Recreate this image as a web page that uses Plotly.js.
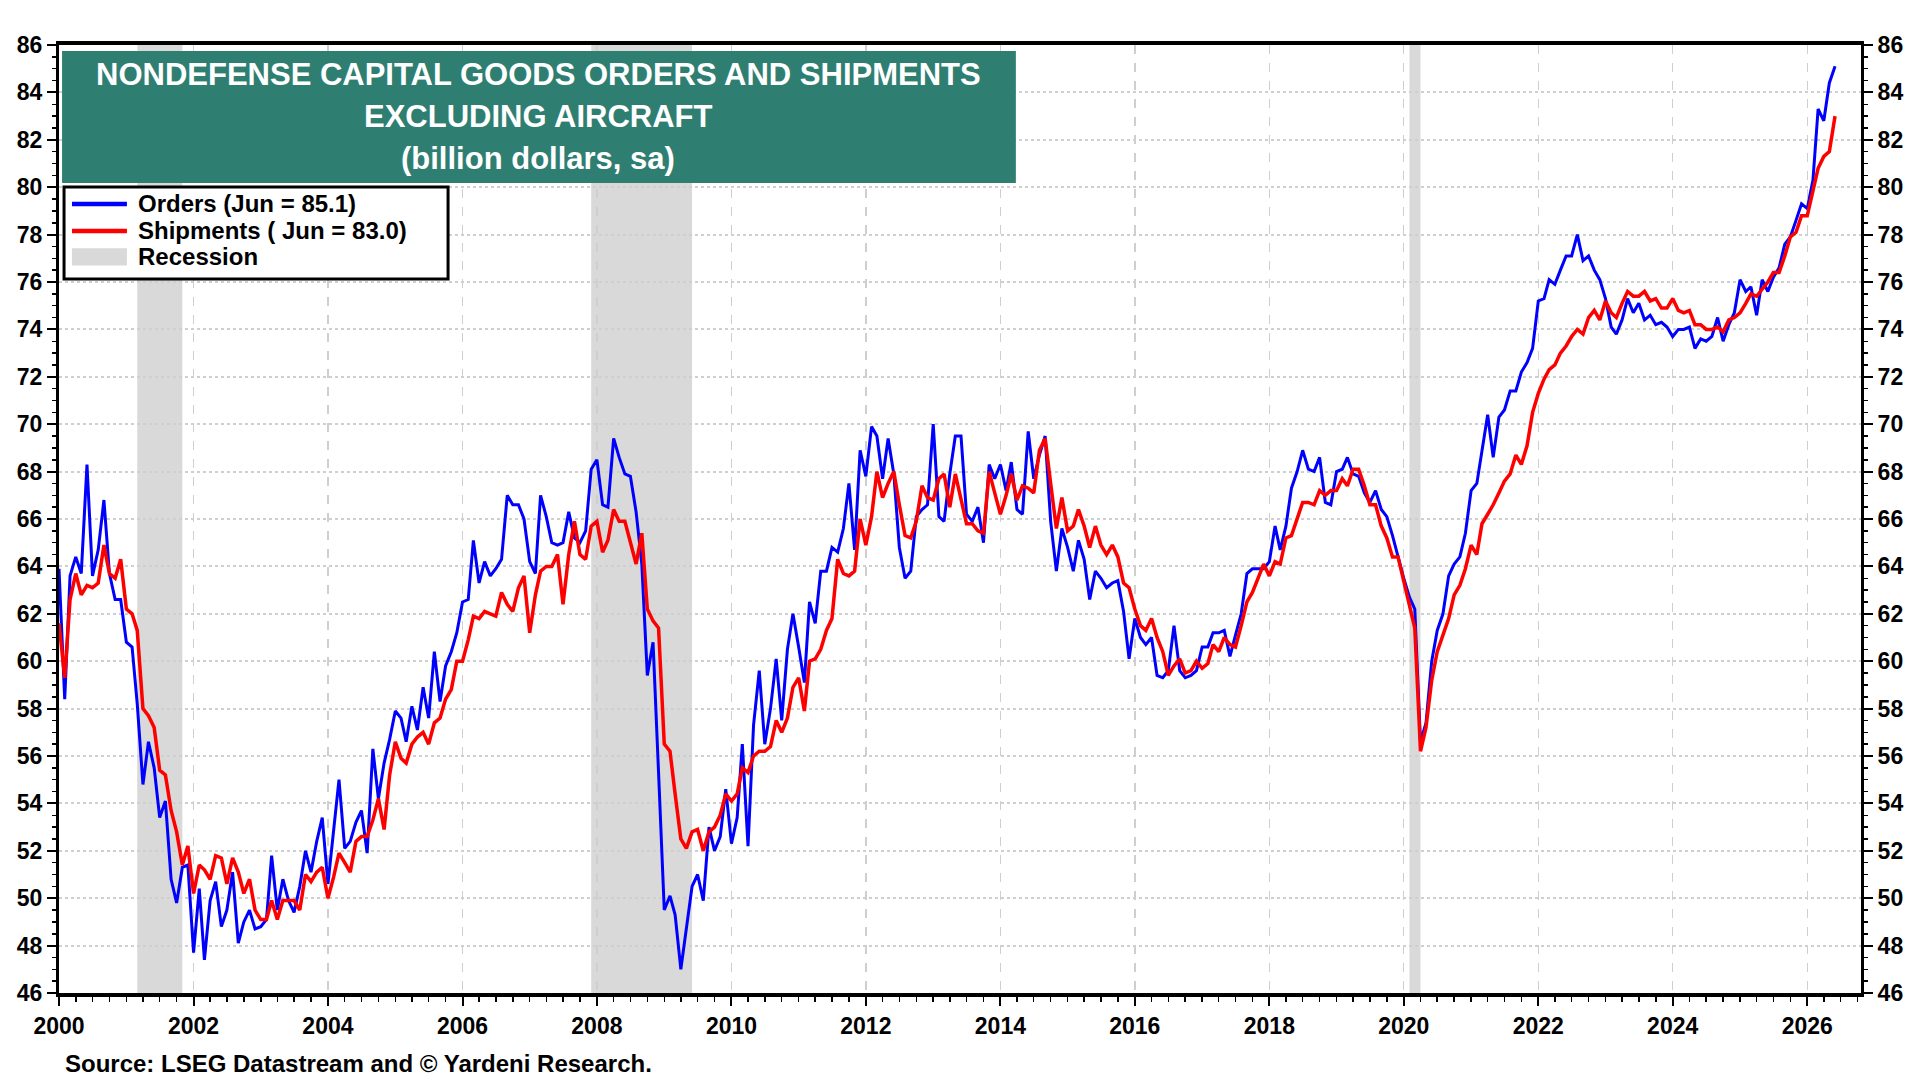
<!DOCTYPE html>
<html>
<head>
<meta charset="utf-8">
<script src="https://cdn.plot.ly/plotly-3.0.1.min.js"></script>
<style>
    body { margin: 0; background: #fff; }
    #graphgoeshere { width: 1920px; height: 1081px; }
</style>
</head>
<body>
<div id="graphgoeshere"></div>
<script>
// monthly data, first value is Jan 2000, last is Jun 2026
var startYear = 2000;

var orders = [
    63.9, 58.4, 63.6, 64.4, 63.7, 68.3, 63.6, 64.7, 66.8, 63.7, 62.6, 62.6,
    60.8, 60.6, 58.2, 54.8, 56.6, 55.5, 53.4, 54.1, 50.8, 49.8, 51.3, 51.4,
    47.7, 50.4, 47.4, 49.9, 50.7, 48.8, 49.5, 51.1, 48.1, 49.0, 49.5, 48.7,
    48.8, 49.1, 51.8, 49.5, 50.8, 49.9, 49.4, 50.5, 52.0, 51.1, 52.4, 53.4,
    50.6, 53.0, 55.0, 52.1, 52.4, 53.2, 53.7, 51.9, 56.3, 54.2, 55.7, 56.7,
    57.9, 57.6, 56.6, 58.1, 57.1, 58.9, 57.6, 60.4, 58.3, 59.8, 60.4, 61.2,
    62.5, 62.6, 65.1, 63.3, 64.2, 63.6, 63.9, 64.3, 67.0, 66.6, 66.6, 66.0,
    64.2, 63.7, 67.0, 66.1, 65.0, 64.9, 65.0, 66.3, 65.2, 65.0, 65.5, 68.1,
    68.5, 66.6, 66.5, 69.4, 68.6, 67.9, 67.8, 66.3, 64.1, 59.4, 60.8, 55.3,
    49.5, 50.1, 49.3, 47.0, 48.7, 50.5, 51.0, 49.9, 53.0, 52.0, 52.6, 54.6,
    52.3, 53.4, 56.5, 52.2, 57.3, 59.6, 56.5, 58.0, 60.1, 57.5, 60.5, 62.0,
    60.6, 59.1, 62.5, 61.6, 63.8, 63.8, 64.8, 64.6, 65.6, 67.5, 64.7, 68.9,
    67.8, 69.9, 69.5, 67.7, 69.4, 67.9, 64.8, 63.5, 63.8, 66.1, 66.4, 66.6,
    70.0, 66.1, 65.9, 67.9, 69.5, 69.5, 66.2, 65.9, 66.5, 65.0, 68.3, 67.7,
    68.3, 67.2, 68.4, 66.4, 66.2, 69.7, 67.7, 68.7, 69.5, 65.9, 63.8, 65.6,
    64.8, 63.8, 65.1, 64.3, 62.6, 63.8, 63.5, 63.1, 63.3, 63.4, 62.1, 60.1,
    61.8, 61.0, 60.7, 61.0, 59.4, 59.3, 59.6, 61.5, 59.6, 59.3, 59.4, 59.6,
    60.6, 60.6, 61.2, 61.2, 61.3, 60.2, 61.1, 62.0, 63.7, 63.9, 63.9, 63.9,
    64.2, 65.7, 64.7, 65.7, 67.3, 68.0, 68.9, 68.1, 68.0, 68.6, 66.7, 66.6,
    68.0, 68.1, 68.6, 67.9, 67.8, 67.1, 66.7, 67.2, 66.4, 66.1, 65.3, 64.4,
    63.5, 62.7, 62.2, 56.6, 57.4, 60.0, 61.3, 62.0, 63.6, 64.1, 64.4, 65.4,
    67.2, 67.5, 68.9, 70.4, 68.6, 70.3, 70.6, 71.4, 71.4, 72.2, 72.6, 73.2,
    75.2, 75.3, 76.1, 75.9, 76.5, 77.1, 77.1, 78.0, 76.9, 77.1, 76.5, 76.1,
    75.3, 74.1, 73.8, 74.4, 75.3, 74.7, 75.1, 74.4, 74.6, 74.2, 74.3, 74.1,
    73.7, 74.0, 74.0, 74.1, 73.2, 73.6, 73.5, 73.7, 74.5, 73.5, 74.2, 74.7,
    76.1, 75.6, 75.8, 74.6, 76.1, 75.6, 76.2, 76.6, 77.6, 77.9, 78.6, 79.3,
    79.1, 80.3, 83.3, 82.8, 84.4, 85.1
];

var shipments = [
    61.6, 59.3, 62.6, 63.7, 62.8, 63.2, 63.1, 63.3, 64.9, 63.7, 63.5, 64.3,
    62.2, 62.0, 61.3, 58.0, 57.7, 57.2, 55.4, 55.2, 53.7, 52.8, 51.4, 52.2,
    50.2, 51.4, 51.2, 50.8, 51.8, 51.7, 50.6, 51.7, 51.1, 50.2, 50.8, 49.5,
    49.1, 49.1, 49.9, 49.1, 49.9, 49.9, 49.9, 49.5, 51.0, 50.7, 51.1, 51.3,
    50.0, 50.9, 51.9, 51.5, 51.1, 52.4, 52.6, 52.6, 53.3, 54.2, 52.9, 55.2,
    56.6, 55.9, 55.7, 56.5, 56.8, 57.0, 56.5, 57.4, 57.6, 58.4, 58.8, 60.0,
    60.0, 60.9, 61.9, 61.8, 62.1, 62.0, 61.9, 62.9, 62.4, 62.1, 63.1, 63.6,
    61.2, 62.8, 63.8, 64.0, 64.0, 64.5, 62.4, 64.5, 65.9, 64.5, 64.3, 65.7,
    65.9, 64.6, 65.1, 66.4, 65.9, 65.9, 65.0, 64.1, 65.4, 62.2, 61.7, 61.4,
    56.5, 56.2, 54.4, 52.5, 52.1, 52.8, 52.9, 52.0, 52.8, 53.0, 53.5, 54.4,
    54.1, 54.4, 55.5, 55.3, 56.0, 56.2, 56.2, 56.4, 57.5, 57.0, 57.6, 58.9,
    59.3, 57.9, 60.0, 60.1, 60.5, 61.3, 61.8, 64.3, 63.7, 63.6, 63.8, 66.0,
    64.9, 66.1, 68.0, 66.9, 67.5, 68.0, 66.6, 65.3, 65.2, 65.9, 67.4, 66.9,
    66.8, 67.7, 67.9, 66.5, 67.9, 66.8, 65.8, 65.8, 65.5, 65.4, 68.0, 67.1,
    66.2, 67.0, 67.9, 66.8, 67.4, 67.3, 67.1, 68.9, 69.4, 67.5, 65.6, 66.9,
    65.5, 65.7, 66.4, 65.7, 64.8, 65.7, 64.9, 64.5, 64.9, 64.4, 63.3, 63.1,
    62.2, 61.5, 61.3, 61.8, 61.0, 60.4, 59.4, 59.8, 60.1, 59.5, 59.6, 60.0,
    59.7, 59.9, 60.7, 60.4, 61.0, 60.7, 60.6, 61.5, 62.5, 62.9, 63.5, 64.1,
    63.6, 64.2, 64.1, 65.2, 65.3, 66.0, 66.7, 66.7, 66.6, 67.2, 67.0, 67.2,
    67.2, 67.7, 67.4, 68.1, 68.1, 67.4, 66.6, 66.6, 65.7, 65.2, 64.4, 64.4,
    63.4, 62.4, 61.4, 56.2, 57.2, 59.2, 60.4, 61.1, 61.8, 62.8, 63.2, 63.9,
    64.9, 64.5, 65.8, 66.2, 66.6, 67.1, 67.6, 67.9, 68.7, 68.3, 69.1, 70.5,
    71.3, 71.9, 72.3, 72.5, 73.0, 73.3, 73.7, 74.0, 73.8, 74.5, 74.8, 74.4,
    75.2, 74.7, 74.5, 75.1, 75.6, 75.4, 75.4, 75.6, 75.2, 75.3, 74.9, 74.9,
    75.3, 74.8, 74.7, 74.8, 74.2, 74.2, 74.0, 74.0, 74.1, 73.9, 74.4, 74.5,
    74.7, 75.1, 75.5, 75.4, 75.7, 76.0, 76.4, 76.4, 77.1, 77.9, 78.1, 78.8,
    78.8, 79.9, 80.8, 81.3, 81.5, 83.0
];

var recessionStart = ['2001-03-01', '2007-12-01', '2020-02-01'];
var recessionEnd = ['2001-11-01', '2009-06-01', '2020-04-01'];

var seriesNames = ['Orders (Jun = 85.1)', 'Shipments ( Jun = 83.0)', 'Recession'];
var seriesColors = ['#0000ff', '#ff0000', '#d9d9d9'];
var titleLines = ['NONDEFENSE CAPITAL GOODS ORDERS AND SHIPMENTS', 'EXCLUDING AIRCRAFT', '(billion dollars, sa)'];
var sourceText = 'Source: LSEG Datastream and \u00a9 Yardeni Research.';

var FONT = '"Liberation Sans", Arial, sans-serif';

function monthDates(n) {
    var out = [];
    for (var i = 0; i < n; i++) {
        var y = startYear + Math.floor(i / 12);
        var m = (i % 12) + 1;
        out.push(y + '-' + (m < 10 ? '0' + m : m) + '-01');
    }
    return out;
}

function paperRect(x0, x1, y0, y1, fill, line) {
    return {
        type: 'rect', xref: 'paper', yref: 'paper',
        x0: x0, x1: x1, y0: y0, y1: y1,
        fillcolor: fill, line: line || { width: 0 }, layer: 'above'
    };
}

function makeGraph() {
    var dates = monthDates(orders.length);

    var trace1 = {
        x: dates, y: orders, name: seriesNames[0],
        mode: 'lines', type: 'scatter',
        line: { color: seriesColors[0], width: 3 }
    };
    var trace2 = {
        x: dates, y: shipments, name: seriesNames[1],
        mode: 'lines', type: 'scatter',
        line: { color: seriesColors[1], width: 3.5 }
    };
    // keeps the right axis alive
    var trace3 = {
        x: [dates[0]], y: [null], yaxis: 'y2',
        showlegend: false, hoverinfo: 'skip', mode: 'lines'
    };

    var shapes = [];
    for (var i = 0; i < recessionStart.length; i++) {
        shapes.push({
            type: 'rect', xref: 'x', yref: 'paper',
            x0: recessionStart[i], x1: recessionEnd[i], y0: 0, y1: 1,
            fillcolor: seriesColors[2], line: { width: 0 }, layer: 'between'
        });
    }
    // title box
    shapes.push(paperRect(0.0017, 0.531, 0.8544, 0.9937, '#2e7e72'));

    // legend drawn by hand so it matches the boxed style
    var legRows = [0.8323, 0.8038, 0.7770];
    shapes.push(paperRect(0.0028, 0.2159, 0.7532, 0.8502, '#fff', { color: '#000', width: 3 }));
    for (var j = 0; j < 2; j++) {
        shapes.push({
            type: 'line', xref: 'paper', yref: 'paper',
            x0: 0.0072, x1: 0.0377, y0: legRows[j], y1: legRows[j],
            line: { color: seriesColors[j], width: 4.5 }, layer: 'above'
        });
    }
    shapes.push(paperRect(0.0072, 0.0377, legRows[2] - 0.0095, legRows[2] + 0.0085, seriesColors[2]));

    var annotations = [];
    var titleY = [0.9689, 0.9251, 0.8805];
    for (var k = 0; k < titleLines.length; k++) {
        annotations.push({
            xref: 'paper', yref: 'paper', x: 0.266, y: titleY[k],
            xanchor: 'center', yanchor: 'middle', showarrow: false,
            text: titleLines[k],
            font: { family: FONT, size: 31, color: '#fff', weight: 'bold' }
        });
    }
    for (var r = 0; r < seriesNames.length; r++) {
        annotations.push({
            xref: 'paper', yref: 'paper', x: 0.0425, y: legRows[r],
            xanchor: 'left', yanchor: 'middle', showarrow: false,
            text: seriesNames[r],
            font: { family: FONT, size: 24, color: '#000', weight: 'bold' }
        });
    }
    annotations.push({
        xref: 'paper', yref: 'paper', x: 0.002, y: -0.0745,
        xanchor: 'left', yanchor: 'middle', showarrow: false,
        text: sourceText,
        font: { family: FONT, size: 24, color: '#000', weight: 'bold' }
    });

    var tickFont = { family: FONT, size: 23, color: '#000', weight: 'bold' };

    var yax = {
        range: [46, 86], dtick: 2, tick0: 46,
        showgrid: true, gridcolor: '#cfcfcf', griddash: 'dot', gridwidth: 2,
        zeroline: false,
        showline: true, linecolor: '#000', linewidth: 3,
        ticks: 'outside', ticklen: 9, tickwidth: 2, tickcolor: '#000',
        minor: { dtick: 0.5, ticks: 'outside', ticklen: 4, tickwidth: 1.5, tickcolor: '#000', showgrid: false },
        tickfont: tickFont, fixedrange: true
    };
    var yax2 = JSON.parse(JSON.stringify(yax));
    yax2.overlaying = 'y';
    yax2.side = 'right';
    yax2.showgrid = false;

    var layout = {
        width: 1920, height: 1081,
        margin: { l: 59, r: 59, t: 45, b: 88 },
        paper_bgcolor: '#fff', plot_bgcolor: '#fff',
        showlegend: false,
        xaxis: {
            type: 'date',
            range: ['2000-01-01', '2026-10-20'],
            tick0: '2000-01-01', dtick: 'M24', tickformat: '%Y',
            showgrid: true, gridcolor: '#cfcfcf', griddash: 'dash', gridwidth: 1.5,
            showline: true, linecolor: '#000', linewidth: 4, mirror: true,
            ticks: 'outside', ticklen: 9, tickwidth: 2, tickcolor: '#000',
            minor: { dtick: 'M3', ticks: 'outside', ticklen: 5, tickwidth: 1.5, tickcolor: '#000', showgrid: false },
            tickfont: tickFont, fixedrange: true
        },
        yaxis: yax,
        yaxis2: yax2,
        shapes: shapes,
        annotations: annotations
    };

    Plotly.newPlot('graphgoeshere', [trace1, trace2, trace3], layout, { displayModeBar: false, staticPlot: true });
}

makeGraph();
</script>
</body>
</html>
